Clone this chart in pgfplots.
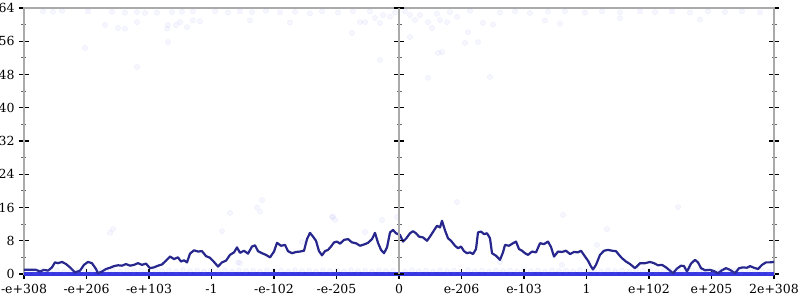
\documentclass[border=0pt]{standalone}
\usepackage{pgfplots}
\pgfplotsset{compat=1.18}
\usepackage{fontspec}
\setmainfont{DejaVu Serif}
\definecolor{linec}{RGB}{38,38,140}
\definecolor{basec}{RGB}{55,55,225}
\definecolor{axgray}{RGB}{170,170,170}
\definecolor{dotc}{RGB}{130,130,240}
\begin{document}
\fontsize{12.5}{14}\selectfont
\begin{tikzpicture}
\useasboundingbox (-24pt,-26pt) rectangle (776pt,274pt);
\begin{axis}[
  at={(0pt,0pt)}, anchor=south west,
  scale only axis, width=750pt, height=266pt,
  xmin=24, xmax=774, ymin=0, ymax=64,
  clip=false,
  xtick={24,86.5,149,211.5,274,336.5,399,461.5,524,586.5,649,711.5,774},
  xticklabels={-e+308,-e+206,-e+103,-1,-e-102,-e-205,0,e-206,e-103,1,e+102,e+205,2e+308},
  ytick={0,8,...,64},
  minor y tick num=1,
  tick align=center,
  major tick length=10pt, minor tick length=5pt,
  xtick pos=bottom, ytick pos=both, yticklabel pos=left,
  axis line style={axgray, line width=2pt},
  tick style={black, line width=1.2pt},
  minor tick style={black!60, line width=0.9pt},
  /pgf/number format/assume math mode=true,
  tick label style={font=\fontsize{12.5}{14}\selectfont},
  xticklabel style={yshift=-1pt},
]
% faint scatter of points
\addplot[only marks, mark=*, mark size=2.6pt,
  mark options={draw=dotc, fill=dotc, draw opacity=0.12, fill opacity=0.07}] coordinates {
(43,63.2)(53,63.1)(62,63.3)(88,63.2)(112,63.1)(125,62.9)(137,63.0)(145,62.8)(157,62.9)(172,63.0)(182,63.1)(193,63.2)
(105,59.9)(118,59.2)(125,59.0)(137,60.6)(167,59.0)(168,59.9)(176,59.9)(180,60.6)(187,59.4)(193,61.0)(200,60.8)
(168,55.8)(85,54.4)(137,49.8)
(215,63.2)(228,62.9)(240,63.2)(252,63.0)(266,63.3)(280,62.9)(295,63.1)(310,62.7)(322,63.2)(338,62.9)
(353,63.2)(360,60.6)(365,60.6)(375,61.6)(380,60.4)(383,62.3)(390,61.9)(410,62.3)(415,61.1)(420,62.3)(428,60.6)
(437,62.6)(440,61.1)(447,60.6)(457,61.9)(468,58.2)(478,55.8)(483,60.4)(493,60.0)(465,55.6)(438,53.2)(442,53.4)
(410,57.0)(432,59.2)(352,58.0)(380,51.5)(428,47.2)(490,47.4)
(370,63.2)(395,62.9)(405,63.2)(450,63.0)(470,63.3)(500,62.9)(515,63.2)(530,62.8)(548,63.1)(565,63.2)
(585,62.9)(602,63.2)(620,62.9)(640,63.2)(655,63.0)(672,63.2)(690,62.9)(708,63.2)(725,63.0)(742,63.2)(760,62.9)
(545,61.0)(560,60.2)(620,61.5)(700,61.2)(250,61.0)(290,60.5)
(110,9.9)(113,10.8)(262,17.8)(230,14.7)(260,15.0)(257,16.0)(222,10.3)(240,2.6)(332,13.7)(335,13.0)
(382,13.0)(397,13.7)(457,17.3)(563,14.2)(562,2.2)(678,16.1)(607,10.8)(365,10.1)(333,13.8)(597,7.0)
(500,2.9)(302,7.7)(238,2.8)
(28,0.8)(35,0.6)(42,0.9)(50,0.7)(57,0.8)(64,0.6)(71,0.9)(78,0.7)(85,0.8)(92,0.6)(99,0.9)(106,0.7)
(113,0.8)(120,0.6)(127,0.9)(134,0.7)(141,0.8)(148,0.6)(155,0.9)(162,0.7)(169,0.8)(176,0.6)(183,0.9)
(190,0.7)(197,0.8)(204,0.6)(211,0.9)(218,0.7)(225,0.8)(232,0.6)(239,0.9)(246,0.7)(253,0.8)(260,0.6)
(267,0.9)(274,0.7)(281,0.8)(288,0.6)(295,0.9)(302,0.7)(309,0.8)(316,0.6)(323,0.9)(330,0.7)(337,0.8)
(344,0.6)(351,0.9)(358,0.7)(365,0.8)(372,0.6)(379,0.9)(386,0.7)(393,0.8)(405,0.6)(412,0.9)(419,0.7)
(426,0.8)(433,0.6)(440,0.9)(447,0.7)(454,0.8)(461,0.6)(468,0.9)(475,0.7)(482,0.8)(489,0.6)(496,0.9)
(503,0.7)(510,0.8)(517,0.6)(524,0.9)(531,0.7)(538,0.8)(545,0.6)(552,0.9)(559,0.7)(566,0.8)(573,0.6)
(580,0.9)(587,0.7)(594,0.8)(601,0.6)(608,0.9)(615,0.7)(622,0.8)(629,0.6)(636,0.9)(643,0.7)(650,0.8)
(657,0.6)(664,0.9)(671,0.7)(678,0.8)(685,0.6)(692,0.9)(699,0.7)(706,0.8)(713,0.6)(720,0.9)(727,0.7)
(734,0.8)(741,0.6)(748,0.9)(755,0.7)(762,0.8)(769,0.6)
};
% baseline at zero
\addplot[basec, line width=3.5pt] coordinates {(24,0)(774,0)};
% main series
\addplot[linec, line width=2.2pt, line join=round] coordinates {
(24,1.0)(30,1.0)(36,1.0)(40,0.6)(44,1.0)(48,0.8)(52,1.6)(55,2.8)(58,2.6)(62,2.9)(66,2.4)(70,1.6)(75,0.4)
(80,0.8)(84,2.2)(88,2.9)(92,2.6)(96,1.2)(98,0.2)(102,0.6)(106,1.2)(110,1.5)(114,1.9)(118,2.1)(122,2.0)
(126,2.4)(130,2.0)(134,2.2)(138,2.6)(142,2.2)(146,2.5)(150,1.4)(154,1.6)(158,2.0)(162,2.3)(166,3.2)
(170,4.2)(174,3.6)(178,4.0)(181,3.0)(184,3.3)(187,2.8)(190,4.9)(194,5.7)(198,5.4)(202,5.5)(206,4.3)
(210,3.9)(214,2.9)(218,1.8)(222,2.8)(226,3.2)(230,4.6)(234,5.2)(237,6.4)(240,5.1)(244,5.6)(248,4.9)
(252,6.6)(255,6.9)(258,5.5)(262,5.0)(266,4.6)(270,4.0)(274,5.4)(277,7.5)(281,6.8)(285,7.0)(288,5.5)
(292,5.0)(296,5.3)(300,5.4)(304,5.6)(307,8.4)(310,9.9)(313,9.0)(316,8.0)(319,5.5)(322,4.5)(325,5.5)
(328,5.8)(331,6.6)(334,7.6)(337,7.8)(340,7.3)(344,8.2)(348,8.4)(352,7.6)(356,7.4)(360,6.8)(364,7.1)
(368,7.5)(372,8.4)(375,9.9)(378,7.5)(381,5.8)(384,5.0)(387,6.4)(390,10.0)(393,10.6)(396,9.8)(400,9.4)
(403,7.8)(406,8.5)(410,9.8)(413,10.3)(416,9.8)(419,9.0)(423,8.8)(427,8.0)(430,9.0)(434,10.5)(437,11.6)
(440,11.2)(442,12.8)(445,10.5)(448,8.6)(451,8.0)(455,6.8)(458,6.2)(461,6.6)(464,5.5)(467,5.0)(470,5.2)
(473,4.8)(476,6.0)(478,10.0)(481,10.2)(484,9.6)(487,9.8)(490,8.6)(492,5.0)(496,4.4)(500,3.4)(503,5.2)
(505,7.0)(509,6.8)(513,7.4)(516,7.8)(519,6.0)(522,5.6)(525,5.0)(528,4.6)(532,5.4)(536,5.2)(540,7.4)
(544,7.2)(548,7.8)(551,6.5)(554,4.2)(558,5.4)(562,5.3)(566,5.6)(570,4.8)(574,5.3)(578,5.2)(581,5.6)
(585,4.2)(588,3.2)(591,1.8)(593,1.1)(596,2.2)(600,4.6)(604,5.6)(608,5.8)(612,5.6)(616,5.5)(619,4.6)
(622,3.8)(626,3.0)(630,2.4)(635,1.4)(640,2.6)(645,2.6)(650,2.9)(654,2.6)(658,2.1)(662,2.2)(666,1.6)
(670,0.8)(673,0.2)(677,1.3)(681,2.0)(684,1.9)(687,0.6)(691,2.5)(695,3.4)(698,2.8)(701,1.4)(705,0.9)
(710,1.0)(714,0.7)(718,0.2)(722,0.9)(726,1.4)(730,1.0)(735,0.2)(739,1.4)(743,1.6)(747,1.5)(750,1.9)
(754,1.5)(758,1.2)(762,2.2)(766,2.8)(770,2.8)(774,2.9)
};
\end{axis}
\begin{axis}[
  at={(375pt,0pt)}, anchor=south west,
  scale only axis, width=375pt, height=266pt,
  xmin=0, xmax=1, ymin=0, ymax=64,
  hide x axis,
  axis y line=left,
  axis line style={-, axgray, line width=2pt},
  ytick={0,8,...,64}, yticklabels={},
  minor y tick num=1,
  tick align=center,
  major tick length=10pt, minor tick length=5pt,
  tick style={black, line width=1.2pt},
  minor tick style={black!60, line width=0.9pt},
]
\addplot[draw=none] coordinates {(0,0)(1,64)};
\end{axis}
\end{tikzpicture}
\end{document}
